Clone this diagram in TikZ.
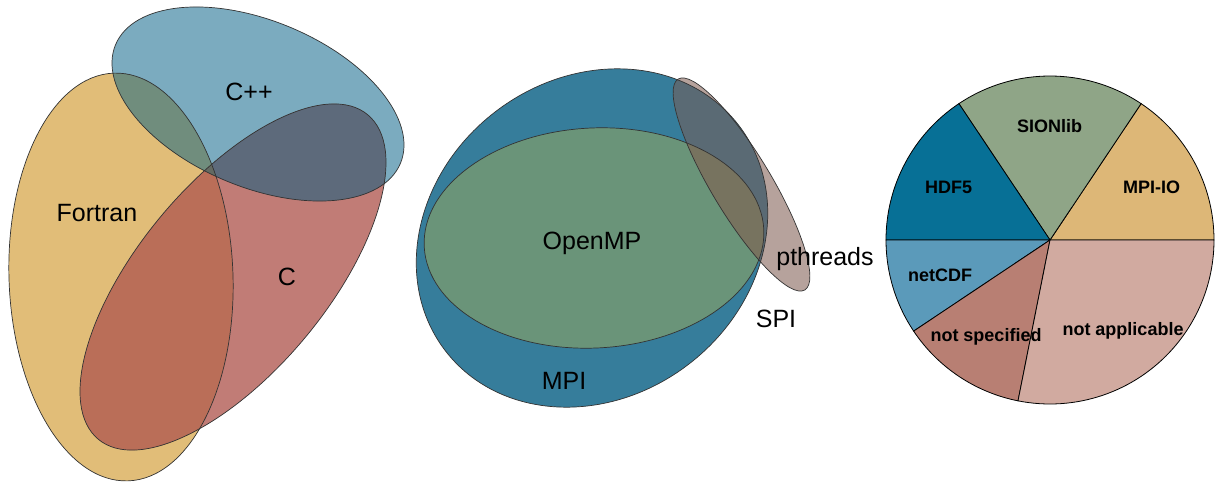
\documentclass[tikz,border=0pt]{standalone}
\usepackage{fontspec}
\setmainfont{Liberation Sans}

% region colours of the two Venn diagrams
\definecolor{fortranc}{HTML}{E1BD78}
\definecolor{cppc}{HTML}{7BABBF}
\definecolor{cc}{HTML}{C17C76}
\definecolor{fortrancpp}{HTML}{708D7D}
\definecolor{fortranandc}{HTML}{BA6E58}
\definecolor{cppandc}{HTML}{5D6A7B}
\definecolor{allthree}{HTML}{646A62}
\definecolor{mpic}{HTML}{367D9B}
\definecolor{ompc}{HTML}{6A9479}
\definecolor{pthrc}{HTML}{B6A29C}
\definecolor{mpipthr}{HTML}{5A6A74}
\definecolor{omppthr}{HTML}{77735F}
% pie slice colours
\definecolor{pieio}{HTML}{DDB777}
\definecolor{piesion}{HTML}{8FA587}
\definecolor{piehdf}{HTML}{077096}
\definecolor{pienetcdf}{HTML}{5B9ABA}
\definecolor{pienotspec}{HTML}{B87F73}
\definecolor{pienotappl}{HTML}{D1AAA0}

\begin{document}
\begin{tikzpicture}[x=1pt,y=-1pt,
  outline/.style={draw=black!80, line width=0.7pt},
  slice/.style={draw=black, line width=0.8pt},
  vennlabel/.style={font=\fontsize{25}{30}\selectfont, anchor=base, inner sep=0pt},
  pielabel/.style={font=\bfseries\fontsize{18}{22}\selectfont, anchor=base, inner sep=0pt},
  fortranpos/.style={shift={(121,277)},rotate=2},
  cpppos/.style={shift={(258,104)},rotate=-22.6},
  cpos/.style={shift={(233,277)},rotate=50.3},
  mpipos/.style={shift={(592,238)},rotate=37.7},
  omppos/.style={shift={(594,238)},rotate=3},
  pthrpos/.style={shift={(741.5,184.5)},rotate=-59},
]
\useasboundingbox (0,0) rectangle (1215,484);

\def\shapeFortran{(0,0) ellipse (112 and 204)}
\def\shapeCpp{(0,0) ellipse (154.3 and 83.2)}
\def\shapeC{(0,0) ellipse (210.9 and 94.2)}
\def\shapeMPI{(0,0) ellipse (185 and 159)}
\def\shapeOMP{(0,0) ellipse (170 and 110)}
\def\shapePthr{(0,0) ellipse (123 and 30)}

% ---------- languages ----------
\fill[fortranc, fortranpos] \shapeFortran;
\fill[cppc, cpppos] \shapeCpp;
\fill[cc, cpos] \shapeC;
\begin{scope}
  \clip[fortranpos] \shapeFortran;
  \fill[fortrancpp, cpppos] \shapeCpp;
  \fill[fortranandc, cpos] \shapeC;
\end{scope}
\begin{scope}
  \clip[cpppos] \shapeCpp;
  \fill[cppandc, cpos] \shapeC;
\end{scope}
\begin{scope}
  \clip[fortranpos] \shapeFortran;
  \clip[cpppos] \shapeCpp;
  \fill[allthree, cpos] \shapeC;
\end{scope}
\draw[outline, fortranpos] \shapeFortran;
\draw[outline, cpppos] \shapeCpp;
\draw[outline, cpos] \shapeC;

\node[vennlabel] (cpp) at (249,101) {C++};
\node[vennlabel] (fortran) at (97,221) {Fortran};
\node[vennlabel] (c) at (287,285) {C};

% ---------- parallelisation ----------
\fill[mpic, mpipos] \shapeMPI;
\fill[ompc, omppos] \shapeOMP;
\fill[pthrc, pthrpos] \shapePthr;
\begin{scope}
  \clip[mpipos] \shapeMPI;
  \fill[mpipthr, pthrpos] \shapePthr;
\end{scope}
\begin{scope}
  \clip[omppos] \shapeOMP;
  \fill[omppthr, pthrpos] \shapePthr;
\end{scope}
\draw[outline, mpipos] \shapeMPI;
\draw[outline, omppos] \shapeOMP;
\draw[outline, pthrpos] \shapePthr;

\node[vennlabel] (openmp) at (592,249) {OpenMP};
\node[vennlabel] (mpi) at (564,389) {MPI};
\node[vennlabel] (pthreads) at (825,265) {pthreads};
\node[vennlabel] (spi) at (776,327) {SPI};

% ---------- I/O libraries ----------
\begin{scope}[shift={(1050,240)}, yscale=-1]
  \filldraw[slice, fill=pieio] (0,0) -- (0:164) arc[start angle=0, end angle=56.25, radius=164] -- cycle;
  \filldraw[slice, fill=piesion] (0,0) -- (56.25:164) arc[start angle=56.25, end angle=123.75, radius=164] -- cycle;
  \filldraw[slice, fill=piehdf] (0,0) -- (123.75:164) arc[start angle=123.75, end angle=180, radius=164] -- cycle;
  \filldraw[slice, fill=pienetcdf] (0,0) -- (180:164) arc[start angle=180, end angle=213.75, radius=164] -- cycle;
  \filldraw[slice, fill=pienotspec] (0,0) -- (213.75:164) arc[start angle=213.75, end angle=258.75, radius=164] -- cycle;
  \filldraw[slice, fill=pienotappl] (0,0) -- (258.75:164) arc[start angle=258.75, end angle=360, radius=164] -- cycle;
\end{scope}

\node[pielabel] (sionlib) at (1049.5,132) {SIONlib};
\node[pielabel] (mpiio) at (1151.5,193) {MPI-IO};
\node[pielabel] (hdf5) at (948.5,193) {HDF5};
\node[pielabel] (netcdf) at (940,281) {netCDF};
\node[pielabel] (notspec) at (986,341) {not specified};
\node[pielabel] (notappl) at (1123,335) {not applicable};
\end{tikzpicture}
\end{document}
